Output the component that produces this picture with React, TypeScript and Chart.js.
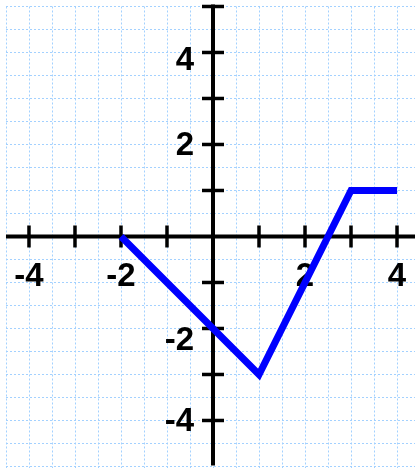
import React, { useEffect, useRef } from "react";
import { Chart, registerables } from "chart.js";

Chart.register(...registerables);

// Data
const pointsX = [-2, 1, 3, 4];
const pointsY = [0, -3, 1, 1];
const xTicks = [-4, -3, -2, -1, 1, 2, 3, 4];
const yTicks = [-4, -3, -2, -1, 1, 2, 3, 4, 5];
const xLabels = [-4, -2, 2, 4];
const yLabels = [4, 2, -2, -4];
const gridXValues = [-4.5, -4, -3.5, -3, -2.5, -2, -1.5, -1, -0.5, 0, 0.5, 1, 1.5, 2, 2.5, 3, 3.5, 4];
const gridYValues = [5, 4.5, 4, 3.5, 3, 2.5, 2, 1.5, 1, 0.5, 0, -0.5, -1, -1.5, -2, -2.5, -3, -3.5, -4, -4.5, -5];

const X_MIN = -4.63;
const X_MAX = 4.391;
const Y_MIN = -5.033;
const Y_MAX = 5.141;

const yLabelNudge: Record<string, number> = { "4": 7, "2": 0, "-2": 11, "-4": 0 };

const axesPlugin = {
  id: "axesPlugin",
  beforeDatasetsDraw(chart: any) {
    const ctx = chart.ctx as CanvasRenderingContext2D;
    const xs = chart.scales.x;
    const ys = chart.scales.y;
    const area = chart.chartArea;
    const x0 = xs.getPixelForValue(0);
    const y0 = ys.getPixelForValue(0);
    const gridLeft = xs.getPixelForValue(-4.5);
    const gridTop = ys.getPixelForValue(5);
    ctx.save();
    // grid
    ctx.strokeStyle = "#a3d1ff";
    ctx.lineWidth = 1;
    ctx.setLineDash([2, 2]);
    for (const v of gridXValues) {
      const px = Math.round(xs.getPixelForValue(v)) + 0.5;
      ctx.beginPath();
      ctx.moveTo(px, gridTop);
      ctx.lineTo(px, area.bottom);
      ctx.stroke();
    }
    for (const v of gridYValues) {
      const py = Math.round(ys.getPixelForValue(v)) + 0.5;
      ctx.beginPath();
      ctx.moveTo(gridLeft, py);
      ctx.lineTo(area.right, py);
      ctx.stroke();
    }
    ctx.setLineDash([]);
    // axes
    ctx.strokeStyle = "#000";
    ctx.lineWidth = 4;
    ctx.beginPath();
    ctx.moveTo(gridLeft, y0);
    ctx.lineTo(area.right, y0);
    ctx.stroke();
    ctx.beginPath();
    ctx.moveTo(x0, gridTop - 2);
    ctx.lineTo(x0, ys.getPixelForValue(-4.98));
    ctx.stroke();
    // ticks
    ctx.lineWidth = 3.5;
    for (const v of xTicks) {
      const px = xs.getPixelForValue(v);
      ctx.beginPath();
      ctx.moveTo(px, y0 - 11);
      ctx.lineTo(px, y0 + 11);
      ctx.stroke();
    }
    for (const v of yTicks) {
      const py = ys.getPixelForValue(v);
      ctx.beginPath();
      ctx.moveTo(x0 - 11, py);
      ctx.lineTo(x0 + 11, py);
      ctx.stroke();
    }
    // labels
    ctx.fillStyle = "#000";
    ctx.font = "bold 33px 'Liberation Sans', Arial, sans-serif";
    ctx.textAlign = "center";
    ctx.textBaseline = "alphabetic";
    for (const v of xLabels) {
      ctx.fillText(String(v), xs.getPixelForValue(v), y0 + 50);
    }
    ctx.textAlign = "right";
    ctx.textBaseline = "middle";
    for (const v of yLabels) {
      const s = String(v);
      ctx.fillText(s, x0 - 19, ys.getPixelForValue(v) + (yLabelNudge[s] || 0) + 1);
    }
    ctx.restore();
  },
};

export default function App() {
  const ref = useRef<HTMLCanvasElement | null>(null);
  useEffect(() => {
    if (!ref.current) return;
    const chart = new Chart(ref.current, {
      type: "scatter",
      data: {
        datasets: [
          {
            data: pointsX.map((x, i) => ({ x, y: pointsY[i] })),
            showLine: true,
            borderColor: "#0000ff",
            backgroundColor: "#0000ff",
            borderWidth: 7,
            pointRadius: 0,
            tension: 0,
            borderJoinStyle: "miter",
            borderCapStyle: "butt",
          },
        ],
      },
      options: {
        animation: false,
        responsive: false,
        devicePixelRatio: 1,
        layout: { padding: 0 },
        plugins: { legend: { display: false }, tooltip: { enabled: false } },
        scales: {
          x: { type: "linear", display: false, min: X_MIN, max: X_MAX },
          y: { type: "linear", display: false, min: Y_MIN, max: Y_MAX },
        },
      },
      plugins: [axesPlugin],
    } as any);
    return () => chart.destroy();
  }, []);
  return (
    <div style={{ position: "absolute", left: 0, top: 0, width: 415, height: 468, background: "#fff" }}>
      <canvas ref={ref} width={415} height={468} style={{ width: 415, height: 468 }} />
    </div>
  );
}
